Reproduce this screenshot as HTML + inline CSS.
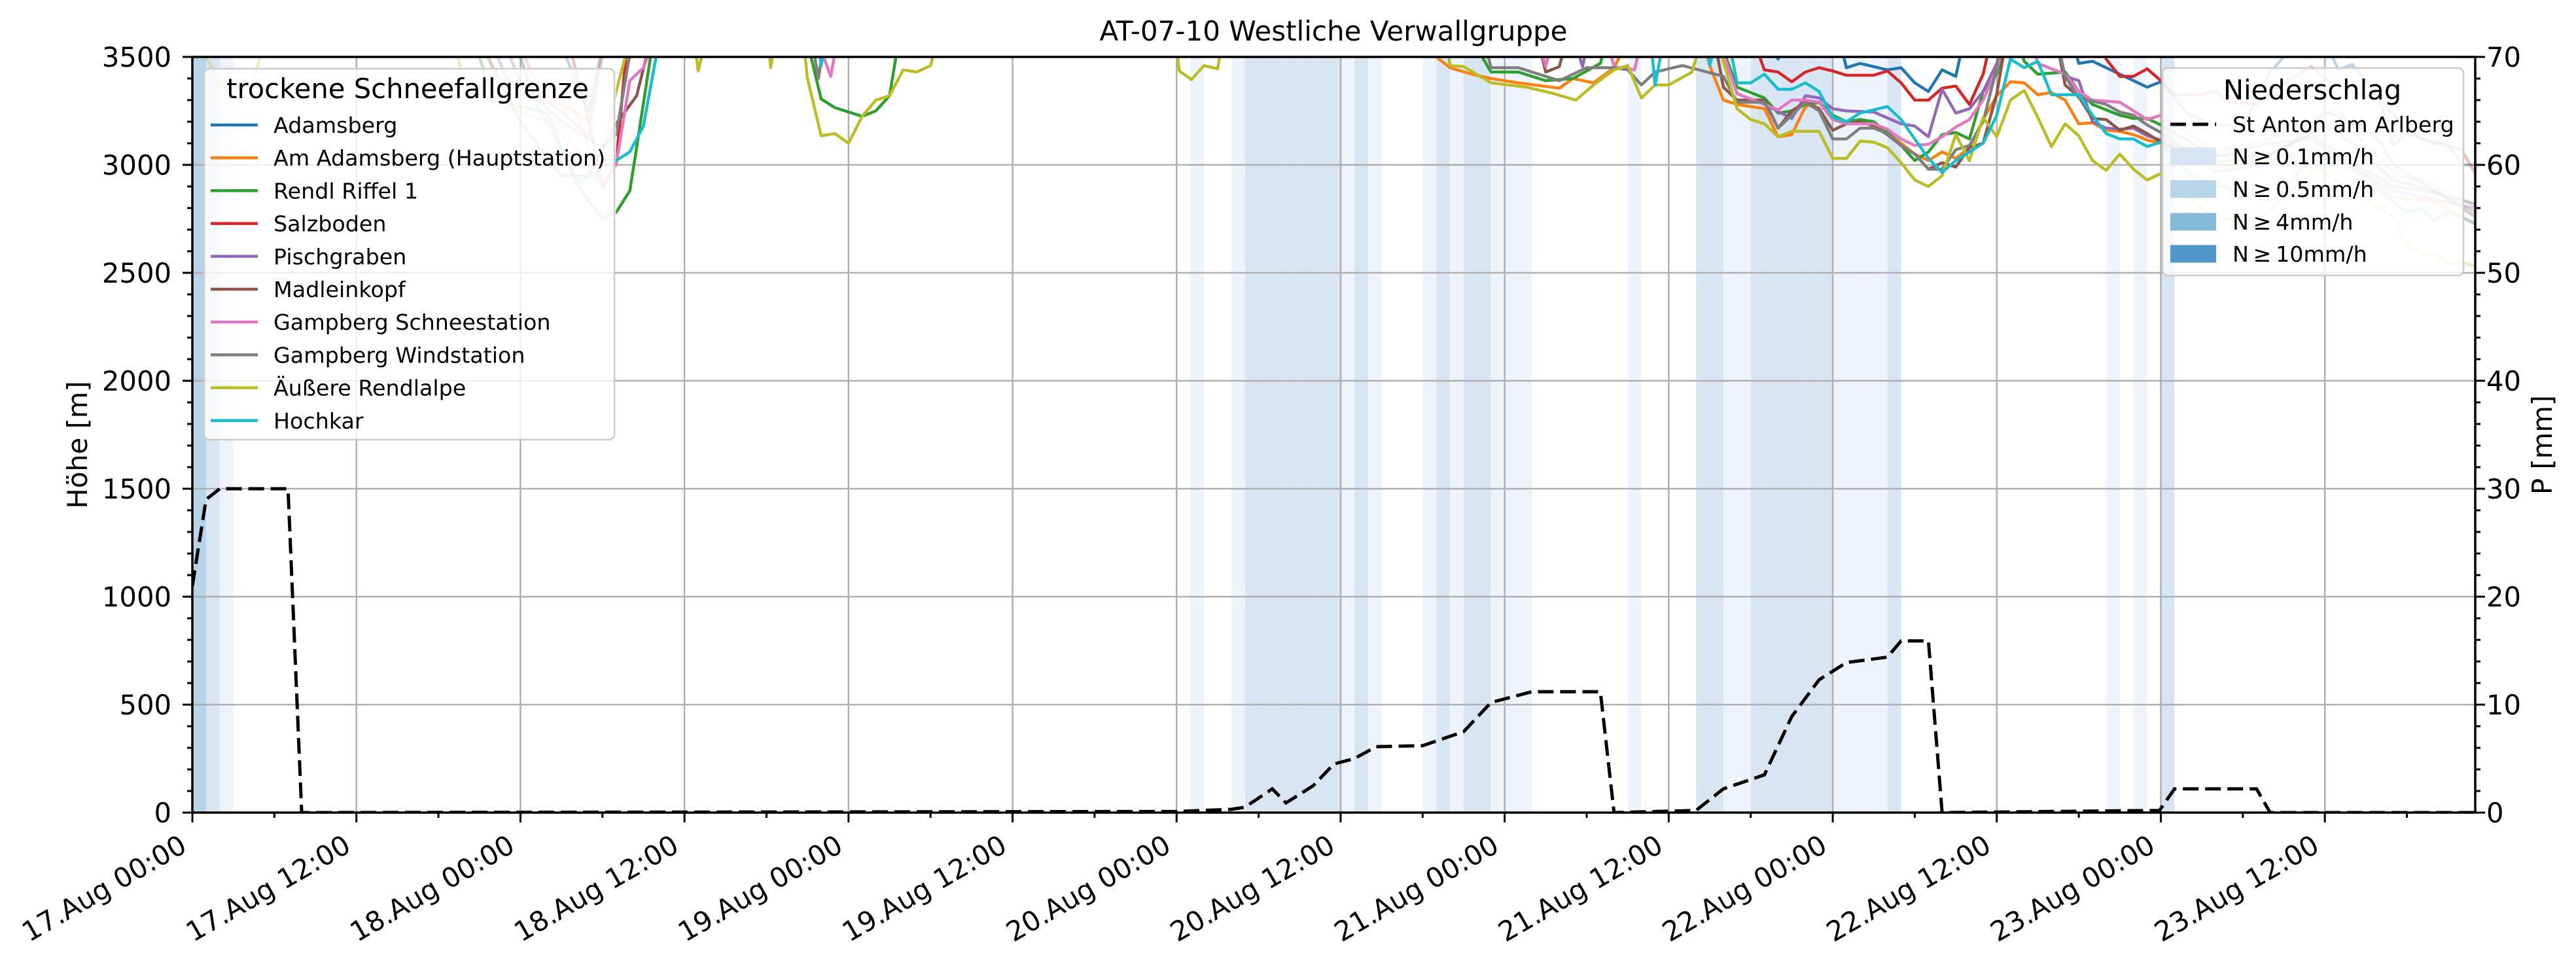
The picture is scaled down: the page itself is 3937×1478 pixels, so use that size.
<!DOCTYPE html>
<html><head><meta charset="utf-8"><title>AT-07-10 Westliche Verwallgruppe</title>
<style>html,body{margin:0;padding:0;background:#fff;}svg{display:block;font-family:"DejaVu Sans","Liberation Sans",sans-serif;}</style>
</head><body>
<svg id="chart" xmlns="http://www.w3.org/2000/svg" width="3937" height="1478" viewBox="0 0 3937 1478">
<defs><clipPath id="plotclip"><rect x="294" y="87" width="3489" height="1155"/></clipPath></defs>
<rect x="0" y="0" width="3937" height="1478" fill="#fff"/>
<g id="bands"></g>
<g id="grid"></g>
<g id="lines" clip-path="url(#plotclip)"></g>
<g id="precip" clip-path="url(#plotclip)"></g>
<g id="axes"></g>
<text x="2038" y="62" font-size="42" text-anchor="middle">AT-07-10 Westliche Verwallgruppe</text>
<text transform="translate(133,680) rotate(-90)" font-size="41.7" text-anchor="middle">Höhe [m]</text>
<text transform="translate(3900,680) rotate(-90)" font-size="41.7" text-anchor="middle">P [mm]</text>
<g id="legend1"></g>
<g id="legend2"></g>
</svg>
<script>
const T = 3700;
const seriesNames = ["Adamsberg","Am Adamsberg (Hauptstation)","Rendl Riffel 1","Salzboden","Pischgraben","Madleinkopf","Gampberg Schneestation","Gampberg Windstation","Äußere Rendlalpe","Hochkar"];
const seriesColors = ["#1f77b4","#ff7f0e","#2ca02c","#d62728","#9467bd","#8c564b","#e377c2","#7f7f7f","#bcbd22","#17becf"];

const adamsbergH = [0,26,29,30.5,110,115,116,117,120,121,122,124,125,126,127,128,129,130,137,138,139,141,143,144,146,148,150,152,153,155,157,158,161,163,164,165,166,167];
const adamsbergV = [T,T,3250,T,T,T,3490,T,T,3450,3470,3440,3450,3380,3340,3440,3410,T,T,3470,3480,3420,3360,3385,3235,3185,3180,3430,3500,T,3440,3465,3230,3120,3100,3100,3000,3000];
const hauptH = [0,23,25,27,29,30.5,90,91,92,93.6,95,97,100,101,102.5,104,106,110,111,112,113,115,116,117,118,119,120,121,122,123,124,125,126,127,128,129,130,131,132,133,134,135,136,137,138,139,140,141,142,143,144,148,152,155,158,161,164,167];
const hauptV = [T,T,3300,3280,3200,T,T,3500,3450,3420,3400,3380,3355,3400,3380,3450,T,T,3460,3300,3280,3260,3130,3140,3270,3290,3210,3200,3210,3180,3150,3100,3050,3020,3060,3030,3080,3210,3320,3385,3380,3325,3335,3300,3190,3195,3160,3155,3140,3115,3100,2990,3020,3070,3000,2850,2830,2725];
const rendlH = [0,20,22,26,28,30,31,32,32.5,34,44.5,46,47,49,50,51,52,92.5,95,97,99,101,103,104,111,113,115,116,117,118,119,120,121,122,123,124,125,126,127,128,129,130,131,132,133,134,135,137,138,139,141,142,143,144,148,152,155,158,161,164,167];
const rendlV = [T,T,3300,3240,2920,2750,2780,2880,3080,T,T,3305,3265,3225,3250,3320,T,T,3430,3430,3390,3400,3470,T,T,3360,3310,3240,3250,3280,3290,3230,3200,3210,3200,3150,3090,3020,3060,3140,3150,3120,3340,3420,T,3480,3420,3430,3340,3280,3230,3215,3215,3185,3040,3050,3140,3010,2900,2870,2820];
const salzH = [0,27,29,30,31,32,112,113.5,115,116,117,118,119,120,121,123,124,125,126,127,128,129,130,131,132,139.5,140,141,142,143,144,145,147,148,149,151,152,155,156,158,160,161,162,164,166,167];
const salzV = [T,T,3200,2900,3010,T,T,T,3440,3430,3385,3430,3450,3435,3415,3415,3435,3380,3300,3300,3355,3365,3280,3420,T,T,3490,3410,3410,3445,3390,3325,3325,3340,3290,3280,3340,3455,3400,3340,3300,3090,3145,3105,3070,2960];
const pischH = [0,21,23,27,29,30.5,100.5,101.7,102.5,111,113,115,117,118,119,120,121,123,125,126,127,128,129,130,131,132,133,136,137,138,139,140,141,142,143,144,148,152,155,158,161,164,167];
const pischV = [T,T,3400,3250,3130,T,T,3455,T,T,3330,3280,3215,3320,3310,3260,3250,3245,3190,3180,3130,3350,3240,3260,3340,3470,T,T,3410,3390,3200,3170,3165,3170,3135,3115,3040,3100,3120,2990,2880,2840,2800];
const madH = [0,20,24,27,29,31,32.5,34,98,99,100,101,111,112,113,115,116,117,118,119,120,121,122,123,124,125,126,127,128,129,130,131,132,133,136,137,138,139,140,141,142,143,144,148,152,156,158,161,164,167];
const madV = [T,T,3200,2950,2950,3190,3320,T,T,3430,3455,T,T,3360,3300,3300,3170,3250,3290,3260,3160,3190,3200,3180,3140,3090,3050,2980,3010,2990,3080,3100,3330,T,T,3370,3315,3215,3210,3160,3180,3145,3105,3010,3050,3180,3100,2930,2880,2760];
const schneeH = [0,23,25,28,30,31,32,33,34.5,45,46.7,47.5,98,99,100,103,104,105.5,106.5,111,113,115,116,117,118,119,120,121,123,124,125,126,127,128,129,130,131,132,133,134,135,137,138,139,141,142,143,144,148,152,157,158,161,164,167];
const schneeV = [T,T,3400,3250,2900,3000,3390,3450,T,T,3410,T,T,3455,T,T,3455,3440,T,T,3330,3280,3255,3300,3300,3290,3210,3190,3190,3165,3120,3090,3095,3130,3175,3210,3300,3440,T,T,3470,3420,3340,3300,3290,3250,3210,3230,3060,3120,3260,3160,2970,2900,2810];
const windH = [0,22,24,27,30,31,32.5,45,45.8,46.5,94,95,97,99,100,102,104,105,106,107,109,112,113,115,116,118,119,120,121,122,123,124,125,126,127,128,129,130,131,132,132.5,136,137,138,139,140,141,142,143,144,148,152,156,158,160,161,164,167];
const windV = [T,T,3380,3200,3080,3140,T,T,3400,T,T,3450,3450,3410,3390,3450,3450,3440,3370,3430,3460,3410,3290,3290,3170,3290,3250,3120,3120,3170,3170,3145,3090,3050,2980,2980,3070,3090,3200,3450,T,T,3410,3310,3295,3280,3245,3230,3185,3150,2970,3000,3245,3200,3110,3000,2880,2780];
const rendlalpeH = [0,1,2.6,4.2,5.7,18.9,19.7,22,23.3,26,28,29.5,30,31,32.5,36.5,37,38,42,42.3,43,44.5,45,46,47,48,49,50,51,52,53,54,55,71.7,72.2,73.1,74,75,75.7,91.5,92,93,95,97.6,99.6,101.2,102.5,104,105,106,107,108,109.7,111,113,114,115,116,117,119,120,121,122,123,124,125,126,127,128,129,130,131,132,133,134,135,136,137,138,139,140,141,142,143,144,147,148,150,151,152.5,155.4,158,161,162,163,164,165,166,167];
const rendlalpeV = [T,3500,3316,3310,T,T,3410,3290,3260,3200,3080,2930,3050,3340,T,T,3435,T,T,3450,T,T,3400,3135,3145,3100,3225,3300,3320,3440,3430,3460,T,T,3435,3395,3460,3445,T,T,3460,3455,3380,3360,3330,3300,3370,3440,3460,3310,3370,3370,3430,T,3260,3210,3190,3130,3155,3155,3030,3030,3110,3105,3080,3010,2930,2900,2950,3140,3020,3220,3130,3300,3345,3220,3085,3190,3135,3020,2975,3050,2980,2930,2960,2800,2750,2750,2740,2820,2990,2880,2760,2630,2590,2590,2540,2550,2530];
const hochkarH = [0,23,25,28.3,31,32,33,34.5,45.5,46,46.5,106.5,107,108,110.5,111,112,113,114,115,116,117,118,119,120,121,122,124,125,126,127,128,129,130,131,132,133,134,135,136,138,139,140,141,142,143,144,146,148,152,155,158,162,163,164,165,167];
const hochkarV = [T,T,3300,2920,3020,3060,3180,T,T,3460,T,T,3370,T,T,3460,T,3380,3380,3420,3350,3350,3380,3340,3220,3200,3240,3270,3210,3120,3030,2965,3020,3060,3100,3230,3490,3450,3480,3325,3325,3230,3145,3120,3120,3085,3105,2960,2910,2830,3025,2980,2780,2800,2745,2780,2730];

const precipHours = [0,1,2,7,8,72,76,77,79,80,82,83.5,85,86.6,90,93,95,98,103,104,110,112,115,117,119,121,124,125,127,128,143.9,145,151,152,167];
const precipValues = [21,29,30,30,0,0.1,0.3,0.5,2.2,0.9,2.5,4.5,5.0,6.1,6.2,7.5,10.2,11.2,11.2,0,0.2,2.2,3.5,8.9,12.3,13.9,14.4,15.9,15.9,0,0.2,2.2,2.2,0,0];

const bandHours = [0,1,2,73,76,77,78,79,80,81,82,83,84,85,86,90,91,92,93,94,95,96,97,105,110,111,112,113,114,115,116,117,118,119,120,121,122,123,124,140,142,144];
const bandLevels = [3,2,1,1,1,2,2,2,2,2,2,2,1,2,1,1,2,1,2,2,1,1,1,1,2,2,1,1,2,2,2,2,2,2,1,1,1,1,2,1,1,2];

const xTickLabels = ["17.Aug 00:00","17.Aug 12:00","18.Aug 00:00","18.Aug 12:00","19.Aug 00:00","19.Aug 12:00","20.Aug 00:00","20.Aug 12:00","21.Aug 00:00","21.Aug 12:00","22.Aug 00:00","22.Aug 12:00","23.Aug 00:00","23.Aug 12:00"];
const yTickLabels = ["0","500","1000","1500","2000","2500","3000","3500"];
const y2TickLabels = ["0","10","20","30","40","50","60","70"];

const allH = [adamsbergH,hauptH,rendlH,salzH,pischH,madH,schneeH,windH,rendlalpeH,hochkarH];
const allV = [adamsbergV,hauptV,rendlV,salzV,pischV,madV,schneeV,windV,rendlalpeV,hochkarV];

const X0=294, X1=3783, Y0=1242, Y1=87, HMAX=167, HTOP=3500, PTOP=70;
function xOf(h){return X0 + h*(X1-X0)/HMAX;}
function yH(v){return Y0 - v*(Y0-Y1)/HTOP;}
function yP(p){return Y0 - p*(Y0-Y1)/PTOP;}
const NS="http://www.w3.org/2000/svg";
function mk(tag, attrs, parent){const e=document.createElementNS(NS,tag);for(const k in attrs)e.setAttribute(k,attrs[k]);parent.appendChild(e);return e;}

const bandColors = {1:"#eef4fb",2:"#d8e6f3",3:"#b5d4ea"};
const gB=document.getElementById('bands');
bandHours.forEach((h,i)=>{
  const r=mk('rect',{x:xOf(h),y:Y1,width:xOf(h+1)-xOf(h),height:Y0-Y1,fill:bandColors[bandLevels[i]]},gB);
  
  
});

const gG=document.getElementById('grid');
xTickLabels.forEach((l,i)=>{
  const ln=mk('line',{x1:xOf(i*12),x2:xOf(i*12),y1:Y1,y2:Y0,stroke:"#b0b0b0","stroke-width":2.5},gG);
  
  
});
yTickLabels.forEach((l,i)=>{
  const v=i*500;
  const ln=mk('line',{x1:X0,x2:X1,y1:yH(v),y2:yH(v),stroke:"#b0b0b0","stroke-width":2.5},gG);
  
  
});

const gL=document.getElementById('lines');
const xa=xOf(31), xb=xOf(144);
const cA=mk('clipPath',{id:'cA'},gL); mk('rect',{x:0,y:0,width:xa,height:1478},cA);
const cB=mk('clipPath',{id:'cB'},gL); mk('rect',{x:xa,y:0,width:xb-xa,height:1478},cB);
const cC=mk('clipPath',{id:'cC'},gL); mk('rect',{x:xb,y:0,width:3937-xb,height:1478},cC);
allH.forEach((hs,si)=>{
  const pts=hs.map((h,j)=>xOf(h).toFixed(1)+','+yH(allV[si][j]).toFixed(1)).join(' ');
  [['cA',0.3],['cB',1],['cC',0.3]].forEach(([c,op])=>{
    const p=mk('polyline',{points:pts,fill:'none',stroke:seriesColors[si],'stroke-width':4.5,'stroke-opacity':op,'stroke-linejoin':'round','clip-path':'url(#'+c+')'},gL);
    
    
  });
});

const gP=document.getElementById('precip');
const pp=mk('polyline',{points:precipHours.map((h,j)=>xOf(h).toFixed(1)+','+yP(precipValues[j]).toFixed(1)).join(' '),fill:'none',stroke:'#000','stroke-width':5,'stroke-dasharray':'24 10'},gP);



const gA=document.getElementById('axes');
const fr=mk('rect',{x:X0,y:Y1,width:X1-X0,height:Y0-Y1,fill:'none',stroke:'#000','stroke-width':3.5},gA);


for(let h=0;h<=HMAX;h+=6){
  const major=h%12===0;
  mk('line',{x1:xOf(h),x2:xOf(h),y1:Y0,y2:Y0+(major?15:8),stroke:'#000','stroke-width':3},gA);
}
xTickLabels.forEach((l,i)=>{
  const tx=xOf(i*12)-6, ty=1300;
  const t=mk('text',{x:tx,y:ty,'font-size':41.7,'text-anchor':'end',transform:'rotate(-30 '+tx+' '+ty+')'},gA);
  t.textContent=l;
  
  
});
for(let v=0;v<=HTOP;v+=100){
  const major=v%500===0;
  mk('line',{x1:X0,x2:X0-(major?15:8),y1:yH(v),y2:yH(v),stroke:'#000','stroke-width':3},gA);
}
yTickLabels.forEach((l,i)=>{
  const t=mk('text',{x:262,y:yH(i*500)+15,'font-size':41.7,'text-anchor':'end'},gA);
  t.textContent=l;
  
  
});
for(let p=0;p<=PTOP;p+=2){
  const major=p%10===0;
  mk('line',{x1:X1,x2:X1+(major?15:8),y1:yP(p),y2:yP(p),stroke:'#000','stroke-width':3},gA);
}
y2TickLabels.forEach((l,i)=>{
  const t=mk('text',{x:3800,y:yP(i*10)+15,'font-size':41.7,'text-anchor':'start'},gA);
  t.textContent=l;
  
  
});

const g1=document.getElementById('legend1');
mk('rect',{x:312,y:105,width:627,height:567,rx:8,fill:'#fff','fill-opacity':0.8,stroke:'#cccccc','stroke-width':2.5},g1);
const lt=mk('text',{x:623,y:150,'font-size':41.7,'text-anchor':'middle'},g1);
lt.textContent='trockene Schneefallgrenze';


seriesNames.forEach((n,i)=>{
  const cy=191+50.2*i;
  const ln=mk('line',{x1:322,x2:394,y1:cy,y2:cy,stroke:seriesColors[i],'stroke-width':4.5},g1);
  
  
  const t=mk('text',{x:418,y:cy+12,'font-size':33.3},g1);
  t.textContent=n;
  
  
});

const g2=document.getElementById('legend2');
mk('rect',{x:3305,y:104,width:460,height:317,rx:8,fill:'#fff','fill-opacity':0.8,stroke:'#cccccc','stroke-width':2.5},g2);
const lt2=mk('text',{x:3534,y:152,'font-size':41.7,'text-anchor':'middle'},g2);
lt2.textContent='Niederschlag';


const l2Labels=['St Anton am Arlberg','N\u2009\u2265\u20090.1mm/h','N\u2009\u2265\u20090.5mm/h','N\u2009\u2265\u20094mm/h','N\u2009\u2265\u200910mm/h'];
const l2Colors=[null,'#d7e6f4','#b9d5ea','#84bada','#4f98c9'];
const l2Rows=[190,239,289,339,388];
l2Labels.forEach((n,i)=>{
  const cy=l2Rows[i];
  if(i===0){
    const ln=mk('line',{x1:3317,x2:3387,y1:cy,y2:cy,stroke:'#000','stroke-width':5,'stroke-dasharray':'24 10'},g2);
    
    
  } else {
    const r=mk('rect',{x:3317,y:cy-13.5,width:70,height:27,fill:l2Colors[i]},g2);
    
    
  }
  const t=mk('text',{x:3412,y:cy+12,'font-size':33.3},g2);
  t.textContent=n;
  
  
});
</script>
</body></html>
